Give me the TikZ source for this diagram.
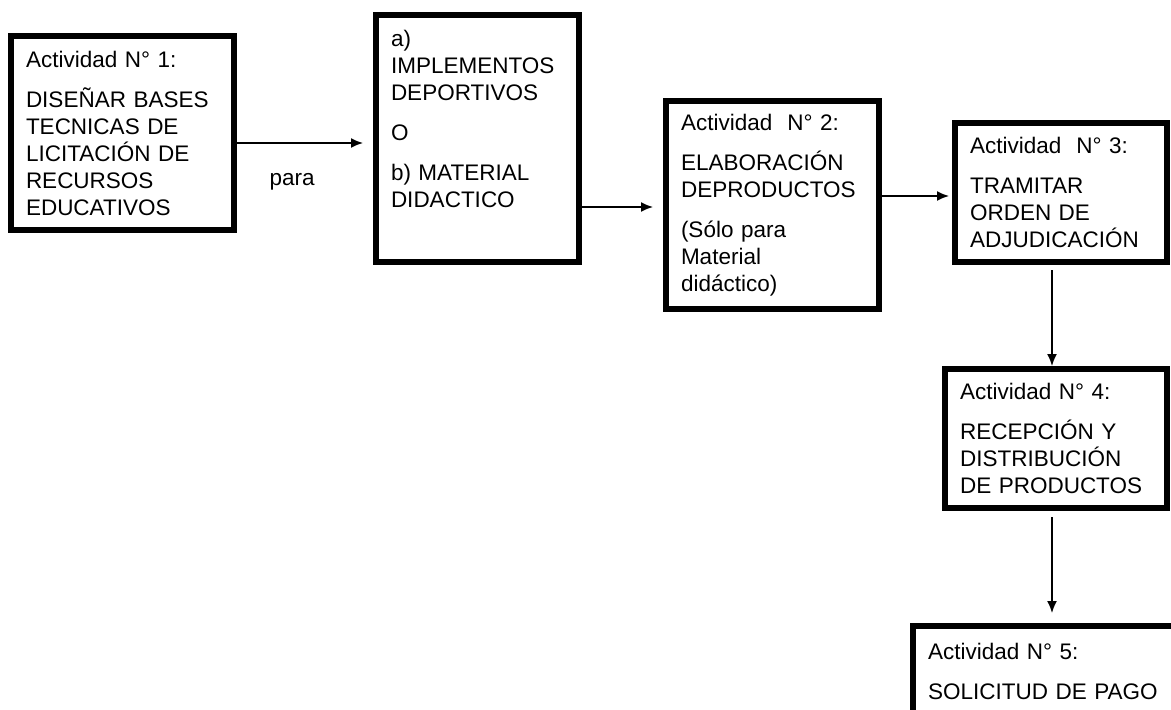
\documentclass[tikz,border=0pt]{standalone}
\usepackage{fontspec}
\setmainfont{Liberation Sans}
\usetikzlibrary{arrows.meta}
\begin{document}
\begin{tikzpicture}[x=1pt,y=-1pt,
        box/.style={draw,line width=6pt,anchor=north west,outer sep=0pt,inner xsep=15pt,inner ysep=0pt,
                align=left,font=\fontsize{22.5}{27}\selectfont},
        flow/.style={-{Latex[length=12pt,width=10pt]},line width=1.6pt}]
                \useasboundingbox (0,0) rectangle (1171,710);
                \node[box,minimum width=223pt,minimum height=194pt,text width=193pt] (act1) at (11,36)
                        {Actividad N° 1:\\[13pt] DISEÑAR BASES\\ TECNICAS DE\\ LICITACIÓN DE\\ RECURSOS\\ EDUCATIVOS};
                \node[box,minimum width=203pt,minimum height=247pt,text width=173pt] (recursos) at (376,15)
                        {a)\\ IMPLEMENTOS\\ DEPORTIVOS\\[13pt] O\\[13pt] b) MATERIAL\\ DIDACTICO\\[13pt] \mbox{}};
                \node[box,minimum width=213pt,minimum height=208pt,text width=183pt] (act2) at (666,101)
                        {Actividad~~N° 2:\\[13pt] ELABORACIÓN\\ DEPRODUCTOS\\[13pt] (Sólo para\\ Material\\ didáctico)};
                \node[box,minimum width=212pt,minimum height=139pt,text width=182pt] (act3) at (955,123)
                        {Actividad~~N° 3:\\[13pt] TRAMITAR\\ ORDEN DE\\ ADJUDICACIÓN};
                \node[box,minimum width=222pt,minimum height=139pt,text width=192pt] (act4) at (945,369)
                        {Actividad N° 4:\\[13pt] RECEPCIÓN Y\\ DISTRIBUCIÓN\\ DE PRODUCTOS};
                \node[box,minimum width=287pt,minimum height=90pt,text width=257pt] (act5) at (913,626)
                        {Actividad N° 5:\\[13pt] SOLICITUD DE PAGO};
                % flechas entre actividades
                \draw[flow,shorten >=13pt] ([yshift=-10pt]act1.east) -- ([yshift=-10pt]act1.east -| recursos.west)
                        node[pos=0.41,below=30pt,inner sep=0pt,font=\fontsize{22.5}{27}\selectfont] (para) {para};
                \draw[flow,shorten >=13pt] ([yshift=-68.5pt]recursos.east) -- ([yshift=-68.5pt]recursos.east -| act2.west);
                \draw[flow,shorten >=6pt] ([yshift=9pt]act2.east) -- ([yshift=9pt]act2.east -| act3.west);
                \draw[flow,shorten <=8pt,shorten >=3pt] ([xshift=-9pt]act3.south) -- ([xshift=-9pt]act3.south |- act4.north);
                \draw[flow,shorten <=9pt,shorten >=13pt] ([xshift=-4pt]act4.south) -- ([xshift=-4pt]act4.south |- act5.north);
            \end{tikzpicture}
\end{document}
